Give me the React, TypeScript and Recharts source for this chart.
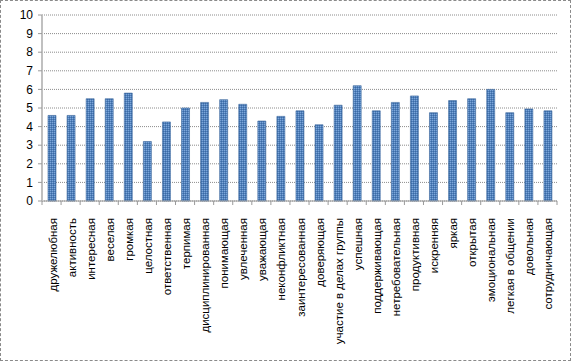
import React from 'react';
import { BarChart, Bar, XAxis, YAxis, CartesianGrid } from 'recharts';

const categories = [
  'дружелюбная', 'активность', 'интересная', 'веселая', 'громкая', 'целостная',
  'ответственная', 'терпимая', 'дисциплинированная', 'понимающая', 'увлеченная',
  'уважающая', 'неконфликтная', 'заинтересованная', 'доверяющая',
  'участие в делах группы', 'успешная', 'поддерживающая', 'нетребовательная',
  'продуктивная', 'искренняя', 'яркая', 'открытая', 'эмоциональная',
  'легкая в общении', 'довольная', 'сотрудничающая',
];
const values = [
  4.6, 4.6, 5.5, 5.5, 5.8, 3.2,
  4.25, 5.0, 5.3, 5.45, 5.2,
  4.3, 4.55, 4.85, 4.1,
  5.15, 6.2, 4.85, 5.3,
  5.65, 4.75, 5.4, 5.5, 6.0,
  4.75, 4.95, 4.85,
];
const yTicks = [0, 1, 2, 3, 4, 5, 6, 7, 8, 9, 10];

const data = categories.map((name, i) => ({ name, value: values[i] }));

const W = 571;
const H = 361;
const M = { top: 15, right: 14, left: 0, bottom: 0 };
const Y_AXIS_W = 42;
const X_AXIS_H = 160;
const plotW = W - M.left - M.right - Y_AXIS_W;
const step = plotW / categories.length;

const XTick = (props: any) => {
  const { x, y, payload, index } = props;
  return (
    <g>
      <line x1={x - step / 2} x2={x - step / 2} y1={y - 8} y2={y - 4} stroke="#9a9a9a" />
      {index === categories.length - 1 ? (
        <line x1={x + step / 2} x2={x + step / 2} y1={y - 8} y2={y - 4} stroke="#9a9a9a" />
      ) : null}
      <text
        x={0}
        y={0}
        transform={`translate(${x + 5},${y + 9}) rotate(-90)`}
        textAnchor="end"
        fontSize={11.5}
        fontFamily="'Liberation Sans', Arial, sans-serif"
        fill="#000"
      >
        {payload.value}
      </text>
    </g>
  );
};

export default function App() {
  return (
    <div
      style={{
        position: 'absolute',
        left: 0,
        top: 0,
        width: W,
        height: H,
        boxSizing: 'border-box',
        border: '1px dashed #8a8a8a',
        background: '#fff',
      }}
    >
      <div style={{ position: 'absolute', left: -1, top: -1 }}>
        <BarChart width={W} height={H} data={data} margin={M} barSize={8}>
          <defs>
            <pattern id="chk" width="2" height="2" patternUnits="userSpaceOnUse">
              <rect width="2" height="2" fill="#4f81bd" />
              <rect width="1" height="1" fill="#7ea6d8" />
              <rect x="1" y="1" width="1" height="1" fill="#3d6aa3" />
            </pattern>
          </defs>
          <CartesianGrid
            vertical={false}
            stroke="#8c8c8c"
            strokeDasharray="1 1"
          />
          <XAxis
            dataKey="name"
            interval={0}
            height={X_AXIS_H}
            tickLine={false}
            axisLine={{ stroke: '#9a9a9a' }}
            tick={<XTick />}
          />
          <YAxis
            width={Y_AXIS_W}
            domain={[0, 10]}
            ticks={yTicks}
            interval={0}
            tickSize={4}
            tickMargin={5}
            axisLine={{ stroke: '#c0c0c0', strokeWidth: 2 }}
            tickLine={{ stroke: '#9a9a9a' }}
            tick={{ fontSize: 12, fill: '#000', fontFamily: "'Liberation Sans', Arial, sans-serif" }}
          />
          <Bar
            dataKey="value"
            fill="url(#chk)"
            stroke="#3a669c"
            strokeWidth={0.6}
            isAnimationActive={false}
          />
        </BarChart>
      </div>
    </div>
  );
}
